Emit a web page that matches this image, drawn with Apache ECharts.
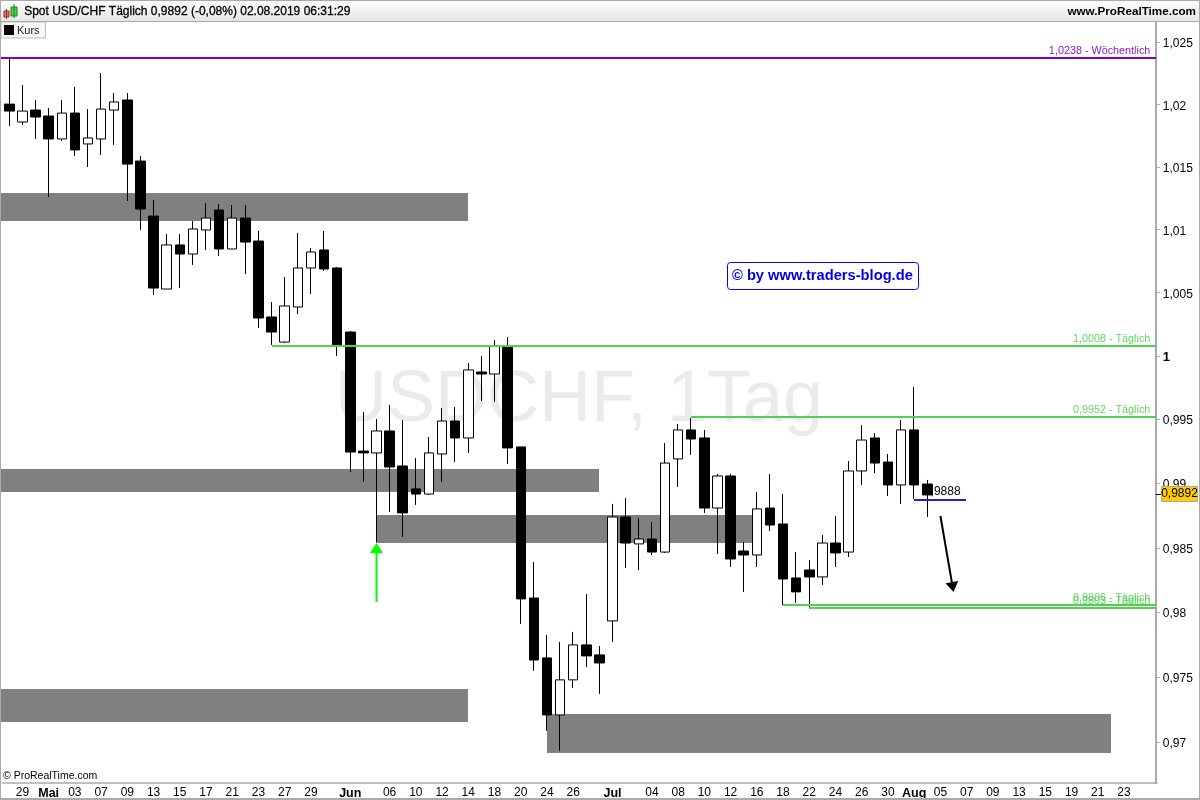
<!DOCTYPE html>
<html>
<head>
<meta charset="utf-8">
<style>html,body{margin:0;padding:0;background:#fff}#c{width:1200px;height:800px}</style>
<script src="https://cdn.jsdelivr.net/npm/echarts@6/dist/echarts.min.js"></script>
</head>
<body>
<div id="c"></div>
<script>
const days = ["26","29","30","Mai","02","03","06","07","08","09","10","13","14","15","16","17","20","21","22","23","24","27","28","29","30","31","Jun","04","05","06","07","10","11","12","13","14","17","18","19","20","21","24","25","26","27","28","Jul","02","03","04","05","08","09","10","11","12","15","16","17","18","19","22","23","24","25","26","29","30","31","Aug","02","05","06","07","08","09","12","13","14","15","16","19","20","21","22","23","26","27"];
const unlabeled = [25,27,45,47,87];
const opens  = [1.02005,1.01861,1.01957,1.01909,1.01725,1.01933,1.01685,1.01725,1.01957,1.02038,1.01548,1.01109,1.00529,1.00879,1.00807,1.00998,1.01157,1.00847,1.01093,1.00910,1.00308,1.00110,1.00387,1.00696,1.00839,1.00696,1.00189,0.99254,0.99239,0.99411,0.99137,0.98958,0.98918,0.99231,0.99489,0.99356,0.99874,0.99858,1.00079,0.99286,0.98111,0.97649,0.97211,0.97480,0.97749,0.97672,0.97934,0.98739,0.98530,0.98568,0.98467,0.99192,0.99419,0.99356,0.98809,0.99059,0.98475,0.98444,0.98809,0.98685,0.98266,0.98328,0.98274,0.98537,0.98467,0.99098,0.99356,0.99168,0.98989,0.99419,0.98996];
const closes = [1.01949,1.01949,1.01901,1.01725,1.01933,1.01637,1.01733,1.01965,1.02022,1.01524,1.01165,1.00537,1.00879,1.00807,1.01006,1.01093,1.00847,1.01093,1.00902,1.00300,1.00189,1.00395,1.00696,1.00823,1.00688,1.00087,0.99246,0.99239,0.99411,0.99129,0.98771,0.98918,0.99239,0.99489,0.99356,0.99890,0.99858,1.00079,0.99278,0.98104,0.97633,0.97211,0.97480,0.97749,0.97664,0.97610,0.98739,0.98537,0.98568,0.98467,0.99160,0.99419,0.99348,0.98809,0.99059,0.98413,0.98444,0.98802,0.98677,0.98258,0.98158,0.98274,0.98537,0.98460,0.99098,0.99340,0.99160,0.98989,0.99419,0.98989,0.98911];
const lows   = [1.01829,1.01837,1.01725,1.01261,1.01709,1.01588,1.01500,1.01596,1.01677,1.01229,1.00998,1.00482,1.00529,1.00537,1.00720,1.00839,1.00791,1.00847,1.00648,1.00221,1.00087,1.00102,1.00332,1.00490,1.00672,1.00000,0.99090,0.99012,0.98545,0.98778,0.98584,0.98833,0.98911,0.99012,0.99168,0.99239,0.99646,0.99638,0.99153,0.97911,0.97549,0.97089,0.96936,0.97418,0.97579,0.97372,0.97772,0.98343,0.98328,0.98444,0.98460,0.98973,0.99223,0.98771,0.98452,0.98351,0.98158,0.98351,0.98631,0.98057,0.98073,0.98026,0.98212,0.98351,0.98429,0.98989,0.99082,0.98903,0.98841,0.98880,0.98739];
const highs  = [1.02376,1.02158,1.02038,1.01973,1.02038,1.02142,1.01965,1.02255,1.02094,1.02094,1.01588,1.01237,1.00966,1.00966,1.01070,1.01213,1.01205,1.01197,1.01197,1.00990,1.00426,1.00624,1.00974,1.00855,1.00990,1.00704,1.00197,0.99560,0.99505,0.99615,0.99497,0.99199,0.99364,0.99591,0.99599,0.99945,1.00000,1.00126,1.00150,0.99286,0.98390,0.97826,0.97772,0.97849,0.98142,0.97741,0.98841,0.98887,0.98732,0.98701,0.99317,0.99466,0.99513,0.99419,0.99075,0.99075,0.98545,0.98934,0.99075,0.98918,0.98467,0.98405,0.98599,0.98747,0.99176,0.99458,0.99395,0.99231,0.99497,0.99756,0.99028];
const priceTicks = [1.025,1.02,1.015,1.01,1.005,1,0.995,0.99,0.985,0.98,0.975,0.97];
const priceMin = 0.96691, priceMax = 1.02667;
const zoneFrom = [-1,-1,28,-1,41];
const zoneTo   = [35,45,57,35,84];
const zoneHigh = [1.01293,0.99114,0.98755,0.97410,0.97219];
const zoneLow  = [1.01070,0.98934,0.98537,0.97158,0.96920];
const levelValues = [1.0238,1.0008,0.9952,0.9806,0.9803];
const levelFrom   = [-1,20,52,59,61];
const levelNames  = ["1,0238 - Wöchentlich","1,0008 - Täglich","0,9952 - Täglich","0,9806 - Täglich","0,9803 - Täglich"];
const levelColors = ["#7f00bf","#4fd24f","#4fd24f","#4fd24f","#4fd24f"];
const targetValue = 0.98875, targetFrom = 69, targetTo = 73, targetLabel = "0,9888";
const lastPrice = 0.9892, lastLabel = "0,9892";
const upArrow = {from:[28,0.98080], to:[28,0.98537]};
const downArrow = {from:[71,0.98747], to:[72,0.98158]};

const FONT = '"Liberation Sans", Arial, sans-serif';
const chart = echarts.init(document.getElementById('c'), null, {renderer:'canvas'});
const comma = v => String(v).replace('.', ',');

function arrow(api, a, color, head) {
  const p0 = api.coord(a.from), p1 = api.coord(a.to);
  const dx = p1[0]-p0[0], dy = p1[1]-p0[1], len = Math.hypot(dx,dy), ux = dx/len, uy = dy/len;
  const bx = p1[0]-ux*head[0], by = p1[1]-uy*head[0];
  return {type:'group', children:[
    {type:'line', shape:{x1:p0[0],y1:p0[1],x2:bx,y2:by}, style:{stroke:color,lineWidth:2}},
    {type:'polygon', shape:{points:[[p1[0],p1[1]],[bx-uy*head[1],by+ux*head[1]],[bx+uy*head[1],by-ux*head[1]]]}, style:{fill:color}}
  ]};
}

chart.setOption({
  animation:false,
  backgroundColor:'#fff',
  grid:{left:2.74, right:43.2, top:22, bottom:17, containLabel:false},
  xAxis:{
    type:'category', data:days, boundaryGap:true,
    axisLine:{lineStyle:{color:'#aaaaaa',width:1.5}},
    axisTick:{alignWithLabel:true, length:3, lineStyle:{color:'#aaaaaa'},
      interval:(i)=> i%2===1 || i===26 || i===46},
    axisLabel:{
      interval:(i)=> (i%2===1 && !unlabeled.includes(i)) || i===26 || i===46,
      hideOverlap:false, margin:4, fontFamily:FONT, fontSize:12, color:'#000',
      formatter:(v)=> /^[A-Z]/.test(v) ? '{m|'+v+'}' : v,
      rich:{m:{fontFamily:FONT,fontSize:12.5,fontWeight:'bold',color:'#000'}}
    },
    splitLine:{show:false}
  },
  yAxis:{
    type:'log', logBase:10, position:'right', offset:-1, min:priceMin, max:priceMax, scale:true,
    axisLine:{show:true,lineStyle:{color:'#aaaaaa',width:2}},
    axisTick:{show:true, length:4, lineStyle:{color:'#aaaaaa'}, customValues:priceTicks},
    axisLabel:{margin:7, padding:[3,0,0,0], fontFamily:FONT, fontSize:12, color:'#000', customValues:priceTicks,
      formatter:(v)=>{ const r=Math.round(v*1000)/1000; return r===1 ? '{o|1}' : comma(r); },
      rich:{o:{fontFamily:FONT,fontSize:13,fontWeight:'bold',color:'#000'}}},
    splitLine:{show:false}, minorTick:{show:false}, minorSplitLine:{show:false}
  },
  graphic:[
    {type:'text', z:0, left:335, top:365, style:{text:'USDCHF, 1Tag', font:'72px '+FONT, fill:'#ebebeb'}},
    {type:'rect', z:10, shape:{x:0,y:0,width:1200,height:21}, style:{fill:new echarts.graphic.LinearGradient(0,0,0,1,[{offset:0,color:'#ffffff'},{offset:1,color:'#e6e6e6'}])}},
    {type:'rect', z:11, shape:{x:0,y:0,width:1200,height:1}, style:{fill:'#aaaaaa'}},
    {type:'rect', z:11, shape:{x:0,y:21,width:1200,height:1}, style:{fill:'#aaaaaa'}},
    {type:'rect', z:11, shape:{x:0,y:0,width:1,height:800}, style:{fill:'#aaaaaa'}},
    {type:'rect', z:11, shape:{x:1199,y:0,width:1,height:800}, style:{fill:'#aaaaaa'}},
    {type:'rect', z:11, shape:{x:0,y:798,width:1200,height:2}, style:{fill:'#aaaaaa'}},
    {type:'rect', z:12, shape:{x:4,y:11,width:5,height:6}, style:{fill:'#f07070',stroke:'#903030',lineWidth:1}},
    {type:'rect', z:12, shape:{x:11,y:7,width:6,height:9}, style:{fill:'#50d050',stroke:'#208020',lineWidth:1}},
    {type:'line', z:12, shape:{x1:6.5,y1:9,x2:6.5,y2:19}, style:{stroke:'#903030',lineWidth:1}},
    {type:'line', z:12, shape:{x1:14,y1:4,x2:14,y2:18}, style:{stroke:'#208020',lineWidth:1}},
    {type:'text', z:12, left:24, top:6, style:{text:'Spot USD/CHF Täglich 0,9892 (-0,08%) 02.08.2019 06:31:29', font:'12px '+FONT, fill:'#000', stroke:'#000', lineWidth:0.3}},
    {type:'text', z:12, right:4, top:6, style:{text:'www.ProRealTime.com', font:'bold 11.7px '+FONT, fill:'#000'}},
    {type:'rect', z:10, shape:{x:1,y:22,width:44.5,height:16}, style:{fill:'#f8f8f8',stroke:'#bbbbbb',lineWidth:1}},
    {type:'rect', z:11, shape:{x:4,y:25,width:10,height:10}, style:{fill:'#000'}},
    {type:'text', z:11, left:17, top:25, style:{text:'Kurs', font:'11px '+FONT, fill:'#222'}},
    {type:'text', z:11, left:3, top:771, style:{text:'© ProRealTime.com', font:'10.5px '+FONT, fill:'#000'}},
    {type:'rect', z:11, shape:{x:727.5,y:262.5,width:191,height:27,r:3}, style:{fill:'#fff',stroke:'#0000ff',lineWidth:1}},
    {type:'text', z:12, left:732, top:268, style:{text:'© by www.traders-blog.de', font:'bold 14.7px '+FONT, fill:'#0000e6'}}
  ],
  series:[
    {type:'custom', name:'Zonen', z:1, silent:true, coordinateSystem:'cartesian2d',
     data:zoneHigh.map((v,i)=>[0,v]), encode:{x:0,y:1},
     renderItem:(p,api)=>{
       const i=p.dataIndex, cs=p.coordSys;
       const x0 = zoneFrom[i]<0 ? cs.x-2 : api.coord([zoneFrom[i],zoneHigh[i]])[0];
       const x1 = api.coord([zoneTo[i],zoneHigh[i]])[0];
       const y0 = api.coord([0,zoneHigh[i]])[1], y1 = api.coord([0,zoneLow[i]])[1];
       return {type:'rect', shape:{x:Math.round(x0),y:Math.round(y0),width:Math.round(x1)-Math.round(x0),height:Math.round(y1)-Math.round(y0)}, style:{fill:'#808080'}};
     }},
    {type:'custom', name:'Zielmarke', z:1, silent:true, coordinateSystem:'cartesian2d',
     data:[[targetTo,targetValue]], encode:{x:0,y:1},
     renderItem:(p,api)=>{
       const c=api.coord([targetTo,targetValue]);
       return {type:'text', style:{x:c[0]-6,y:c[1]-2,text:targetLabel,align:'right',verticalAlign:'bottom',font:'12px '+FONT,fill:'#000'}};
     }},
    {type:'candlestick', name:'Kurs', z:2, barWidth:10,
     data:opens.map((o,i)=>[o,closes[i],lows[i],highs[i]]),
     itemStyle:{color:'#ffffff',color0:'#000000',borderColor:'#000000',borderColor0:'#000000',borderWidth:1}},
    {type:'custom', name:'Niveaus', z:3, silent:true, coordinateSystem:'cartesian2d',
     data:levelValues.map(v=>[0,v]), encode:{x:0,y:1},
     renderItem:(p,api)=>{
       const i=p.dataIndex, cs=p.coordSys, v=levelValues[i];
       const y=Math.round(api.coord([0,v])[1]);
       const x0= levelFrom[i]<0 ? cs.x-2 : api.coord([levelFrom[i],v])[0];
       const x1=cs.x+cs.width-1;
       return {type:'group',children:[
         {type:'rect',shape:{x:Math.round(x0),y:y-1,width:Math.round(x1)-Math.round(x0),height:2},style:{fill:levelColors[i]}},
         {type:'text',style:{x:x1-5.5,y:y-1,text:levelNames[i],align:'right',verticalAlign:'bottom',font:'10.8px '+FONT,fill:levelColors[i],opacity:0.9}}
       ]};
     }},
    {type:'custom', name:'Ziel', z:3, silent:true, coordinateSystem:'cartesian2d',
     data:[[targetFrom,targetValue]], encode:{x:0,y:1},
     renderItem:(p,api)=>{
       const a=api.coord([targetFrom,targetValue]), b=api.coord([targetTo,targetValue]);
       const y=Math.round(a[1]);
       return {type:'rect',shape:{x:Math.round(a[0]),y:y-1,width:Math.round(b[0]-a[0]),height:2},style:{fill:'#2222cc'}};
     }},
    {type:'custom', name:'Pfeile', z:3, silent:true, coordinateSystem:'cartesian2d',
     data:[upArrow.to,downArrow.to], encode:{x:0,y:1},
     renderItem:(p,api)=> p.dataIndex===0 ? arrow(api,upArrow,'#00ff00',[10,6.5]) : arrow(api,downArrow,'#000000',[10,6.5])},
    {type:'custom', name:'Letzter Kurs', z:5, silent:true, coordinateSystem:'cartesian2d',
     data:[[70,lastPrice]], encode:{x:0,y:1},
     renderItem:(p,api)=>{
       const cs=p.coordSys, y=Math.round(api.coord([70,lastPrice])[1]), x=cs.x+cs.width-1;
       return {type:'group',children:[
         {type:'rect',shape:{x:x,y:y,width:5,height:1},style:{fill:'#000'}},
         {type:'rect',shape:{x:1161.5,y:y-7.5,width:36,height:15},style:{fill:'#ffcc00',stroke:'#aaaaaa',lineWidth:1}},
         {type:'text',style:{x:1179.5,y:y,text:lastLabel,align:'center',verticalAlign:'middle',font:'12px '+FONT,fill:'#000'}}
       ]};
     }}
  ]
});
</script>
</body>
</html>
